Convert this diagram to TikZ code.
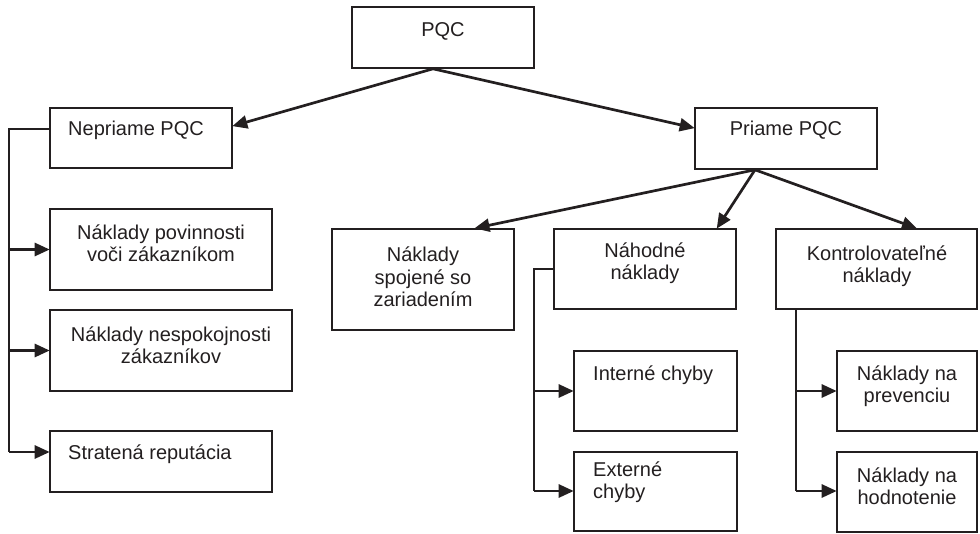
\documentclass[tikz,border=0pt]{standalone}
\usepackage{fontspec}
\setmainfont{Liberation Sans}
\usetikzlibrary{arrows.meta}
\definecolor{ink}{HTML}{231F20}
\begin{document}
\begin{tikzpicture}[x=1pt,y=-1pt,
  box/.style={draw=ink,line width=1.6pt,inner sep=0pt,minimum width=#1},
  txt/.style={inner sep=0pt,text=ink,font=\fontsize{20}{22.5}\selectfont,align=center},
  ltxt/.style={txt,align=left,anchor=west},
  arr/.style={draw=ink,line width=2.7pt,-{Triangle[length=15pt,width=13pt]},shorten >=-0.5pt},
  bus/.style={draw=ink,line width=1.9pt}]
\useasboundingbox (0,0) rectangle (980,533);
% boxes
\node[box=182,minimum height=61] (pqc) at (443,37.5) {};
\node[box=182,minimum height=60] (nep) at (141,138) {};
\node[box=182,minimum height=61] (pri) at (786,138.5) {};
\node[box=222,minimum height=81] (pov) at (161,249.5) {};
\node[box=242,minimum height=81] (nes) at (171,350.5) {};
\node[box=222,minimum height=61] (str) at (161,461.5) {};
\node[box=182,minimum height=101] (spo) at (423,279.5) {};
\node[box=182,minimum height=80] (nah) at (645,269) {};
\node[box=201,minimum height=80] (kon) at (876.5,269) {};
\node[box=163,minimum height=80] (int) at (655.5,391) {};
\node[box=163,minimum height=79] (ext) at (655.5,491.5) {};
\node[box=140,minimum height=80] (pre) at (907,391) {};
\node[box=140,minimum height=80] (hod) at (907,492) {};
% texts
\node[txt,anchor=base] (tpqc) at (443,36) {PQC};
\node[txt,anchor=base west] (tnep) at (68,135) {Nepriame PQC};
\node[txt,anchor=base] (tpri) at (786,135) {Priame PQC};
\node[txt] (tpov) at (161,243) {Náklady povinnosti\\voči zákazníkom};
\node[txt] (tnes) at (171,345) {Náklady nespokojnosti\\zákazníkov};
\node[txt,anchor=base west] (tstr) at (68,459) {Stratená reputácia};
\node[txt] (tspo) at (423,277) {Náklady\\spojené so\\zariadením};
\node[txt] (tnah) at (645,263) {Náhodné\\náklady};
\node[txt] (tkon) at (877,266) {Kontrolovateľné\\náklady};
\node[txt,anchor=base west] (tint) at (593,380) {Interné chyby};
\node[ltxt] (text) at (593,482) {Externé\\chyby};
\node[txt] (tpre) at (907,386) {Náklady na\\prevenciu};
\node[txt] (thod) at (907,486) {Náklady na\\hodnotenie};
% top arrows
\draw[arr] ([xshift=-10pt]pqc.south) -- ([yshift=12pt]nep.east);
\draw[arr] ([xshift=-10pt]pqc.south) -- ([yshift=10.5pt]pri.west);
\draw[arr] ([xshift=-31pt]pri.south) -- ([xshift=52pt]spo.north);
\draw[arr] ([xshift=-31pt]pri.south) -- ([xshift=72pt]nah.north);
\draw[arr] ([xshift=-31pt]pri.south) -- ([xshift=40pt]kon.north);
% left bus
\coordinate (L1) at (9,129);
\coordinate (L2) at (9,452);
\draw[bus] ([yshift=9pt]nep.west) -- (L1) -- (L2);
\draw[arr] (L1 |- pov.west) -- (pov.west);
\draw[arr] (L1 |- nes.west) -- (nes.west);
\draw[arr] (L2) -- (L2 -| str.west);
% middle bus
\coordinate (M1) at (534,270);
\coordinate (M2) at (534,491);
\draw[bus] (nah.west) -- (M1 |- nah.west) -- (M2);
\draw[arr] (M1 |- int.west) -- (int.west);
\draw[arr] (M2) -- (M2 -| ext.west);
% right bus
\coordinate (K2) at (796,491);
\draw[bus] (K2 |- kon.south) -- (K2);
\draw[arr] (K2 |- pre.west) -- (pre.west);
\draw[arr] (K2) -- (K2 -| hod.west);
\end{tikzpicture}
\end{document}
